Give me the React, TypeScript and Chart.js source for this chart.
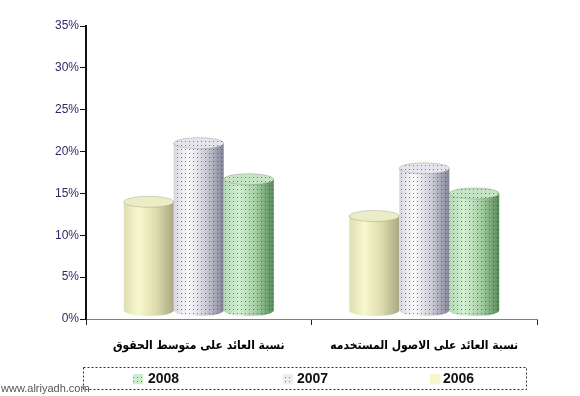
import React, { useEffect, useRef } from "react";
import { Chart, registerables } from "chart.js";

Chart.register(...registerables);

const categories = ["نسبة العائد على متوسط الحقوق", "نسبة العائد على الاصول المستخدمه"];
const seriesNames = ["2006", "2007", "2008"];
const values2006 = [14, 12.3];
const values2007 = [21, 18];
const values2008 = [16.7, 15];
const yTicks = [0, 5, 10, 15, 20, 25, 30, 35];

const styles = [
  { stops: ["#dedeb2", "#f8f8d0", "#dcdcae", "#a8a884"], top: "#ececc6", dots: false, swatch: "#f6f6c8" },
  { stops: ["#d6d6e0", "#fafafc", "#cacad4", "#84849a"], top: "#e4e4ec", dots: true, swatch: "#eeeeee" },
  { stops: ["#b4d8b4", "#d2f0d2", "#a2cca2", "#588a58"], top: "#c4e4c4", dots: true, swatch: "#cdeecd" },
];

function makeDots(ctx: CanvasRenderingContext2D) {
  const c = document.createElement("canvas");
  c.width = 4;
  c.height = 4;
  const g = c.getContext("2d")!;
  g.fillStyle = "rgba(50,50,70,0.6)";
  g.fillRect(1, 1, 1, 1);
  return ctx.createPattern(c, "repeat");
}

const cylinderPlugin = {
  id: "cylinders",
  afterDatasetsDraw(chart: any) {
    const ctx: CanvasRenderingContext2D = chart.ctx;
    const pattern = makeDots(ctx);
    chart.data.datasets.forEach((ds: any, di: number) => {
      const meta = chart.getDatasetMeta(di);
      const st = styles[di];
      meta.data.forEach((el: any) => {
        const { x, y, base, width } = el.getProps(["x", "y", "base", "width"], true);
        const l = x - width / 2;
        const r = x + width / 2;
        const ry = 5.5;
        const bottom = base - 8;
        const grad = ctx.createLinearGradient(l, 0, r, 0);
        grad.addColorStop(0, st.stops[0]);
        grad.addColorStop(0.3, st.stops[1]);
        grad.addColorStop(0.65, st.stops[2]);
        grad.addColorStop(1, st.stops[3]);
        ctx.save();
        ctx.beginPath();
        ctx.moveTo(l, y);
        ctx.lineTo(l, bottom);
        ctx.ellipse(x, bottom, width / 2, ry, 0, Math.PI, 0, true);
        ctx.lineTo(r, y);
        ctx.closePath();
        ctx.fillStyle = grad;
        ctx.fill();
        if (st.dots && pattern) {
          ctx.fillStyle = pattern;
          ctx.fill();
        }
        ctx.beginPath();
        ctx.ellipse(x, y, width / 2, ry, 0, 0, Math.PI * 2);
        ctx.fillStyle = st.top;
        ctx.fill();
        if (st.dots && pattern) {
          ctx.fillStyle = pattern;
          ctx.fill();
        }
        ctx.strokeStyle = "rgba(120,120,100,0.3)";
        ctx.lineWidth = 1;
        ctx.stroke();
        ctx.restore();
      });
    });
  },
  afterDraw(chart: any) {
    const ctx: CanvasRenderingContext2D = chart.ctx;
    const pattern = makeDots(ctx);
    ctx.save();
    ctx.setLineDash([2, 2]);
    ctx.strokeStyle = "#333";
    ctx.lineWidth = 1;
    ctx.strokeRect(83.5, 367.5, 443, 22);
    ctx.setLineDash([]);
    const items = [
      { i: 2, sx: 133, tx: 148 },
      { i: 1, sx: 283, tx: 297 },
      { i: 0, sx: 430, tx: 443 },
    ];
    items.forEach(({ i, sx, tx }) => {
      ctx.fillStyle = styles[i].swatch;
      ctx.fillRect(sx, 374, 10, 10);
      if (styles[i].dots && pattern) {
        ctx.fillStyle = pattern;
        ctx.fillRect(sx, 374, 10, 10);
      }
      ctx.fillStyle = "#111";
      ctx.font = "bold 14px 'Liberation Sans', Arial, sans-serif";
      ctx.textBaseline = "middle";
      ctx.textAlign = "left";
      ctx.fillText(seriesNames[i], tx, 379);
    });
    ctx.fillStyle = "#555";
    ctx.font = "11px 'Liberation Sans', Arial, sans-serif";
    ctx.textBaseline = "alphabetic";
    ctx.fillText("www.alriyadh.com", 1, 392);
    ctx.restore();
  },
};

export default function App() {
  const ref = useRef<HTMLCanvasElement>(null);
  useEffect(() => {
    const chart = new Chart(ref.current!, {
      type: "bar",
      data: {
        labels: categories,
        datasets: [
          { label: seriesNames[0], data: values2006 },
          { label: seriesNames[1], data: values2007 },
          { label: seriesNames[2], data: values2008 },
        ].map((d) => ({
          ...d,
          backgroundColor: "rgba(0,0,0,0)",
          borderWidth: 0,
          categoryPercentage: 0.665,
          barPercentage: 1,
        })),
      },
      options: {
        responsive: false,
        animation: false,
        layout: { padding: { top: 26, right: 43, bottom: 0, left: 0 } },
        plugins: { legend: { display: false }, tooltip: { enabled: false } },
        scales: {
          x: {
            afterFit: (s: any) => {
              s.height = 77;
              s.paddingLeft = 0;
              s.paddingRight = 0;
            },
            grid: {
              offset: true,
              drawOnChartArea: false,
              drawTicks: true,
              tickLength: 6,
              color: "#222",
            },
            border: { display: true, color: "#808080", width: 1 },
            ticks: {
              padding: 14,
              maxRotation: 0,
              minRotation: 0,
              autoSkip: false,
              color: "#000",
              font: { family: "'DejaVu Sans Condensed', 'DejaVu Sans', sans-serif", size: 12, weight: "bold" },
            },
          },
          y: {
            min: 0,
            max: 35,
            afterFit: (s: any) => {
              s.width = 86;
            },
            afterBuildTicks: (s: any) => {
              s.ticks = yTicks.map((v) => ({ value: v }));
            },
            grid: { drawOnChartArea: false, tickLength: 6, color: "#111" },
            border: { display: true, color: "#111", width: 2 },
            ticks: {
              padding: 1,
              color: "#2b2b66",
              font: { family: "'Liberation Sans', Arial, sans-serif", size: 12 },
              callback: (v: any) => v + "%",
            },
          },
        },
      },
      plugins: [cylinderPlugin],
    });
    return () => chart.destroy();
  }, []);
  return (
    <div style={{ position: "absolute", left: 0, top: 0, width: 580, height: 396, background: "#fff" }}>
      <canvas ref={ref} width={580} height={396} />
    </div>
  );
}
